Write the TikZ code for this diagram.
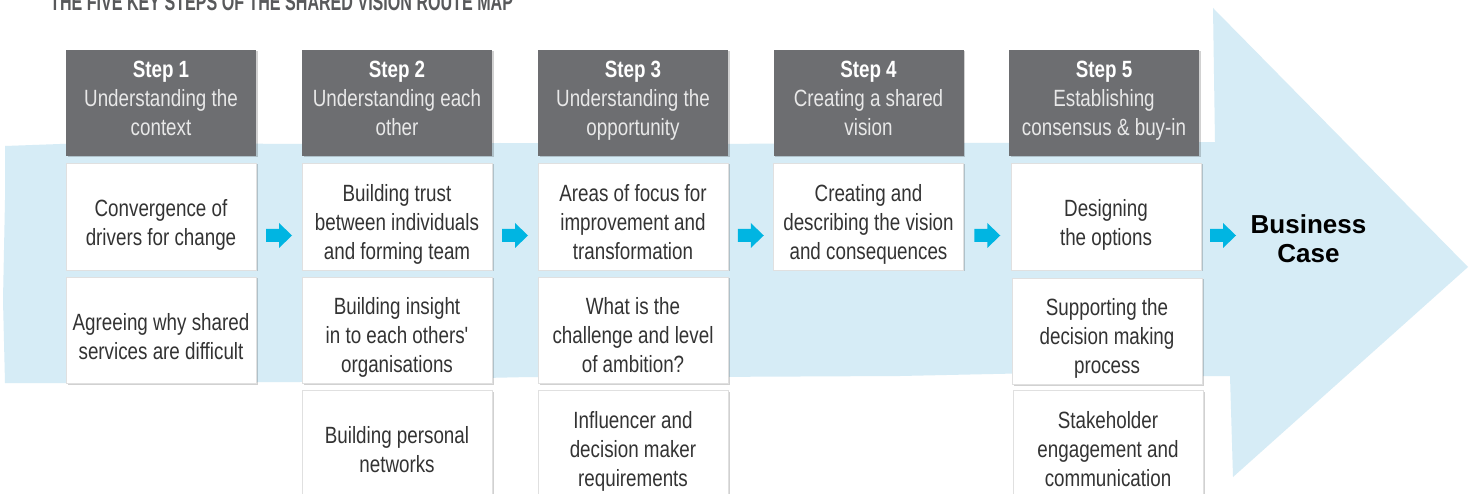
\documentclass[tikz,border=0pt]{standalone}
\usepackage{fontspec}
\setmainfont{Liberation Sans}
\newfontfamily\bodyf{Liberation Sans}[FakeStretch=0.8]
\newfontfamily\titlef{Liberation Sans}[FakeStretch=0.67]
\usetikzlibrary{shadows,calc}
\definecolor{band}{RGB}{214,236,246}
\definecolor{hdr}{RGB}{109,110,113}
\definecolor{cy}{RGB}{0,181,226}
\definecolor{txt}{RGB}{51,51,51}
\definecolor{ttl}{RGB}{88,89,91}
\definecolor{sub}{RGB}{232,232,232}
\begin{document}
\begin{tikzpicture}[x=1pt,y=-1pt,
  shad/.style={drop shadow={shadow xshift=1.5pt,shadow yshift=-1.5pt,opacity=0.18,fill=black}},
  hdrbox/.style={fill=hdr,minimum width=190pt,minimum height=106pt,inner sep=0pt,shad},
  wbox/.style={fill=white,draw=black!12,line width=0.6pt,minimum width=190pt,inner sep=0pt,shad},
  row1/.style={wbox,minimum height=107pt},
  row2/.style={wbox,minimum height=106pt},
  row3/.style={wbox,minimum height=118pt},
  boxtxt/.style={font=\bodyf\fontsize{23.5}{29}\selectfont,text=txt,align=center,inner sep=0pt},
  hdrtxt/.style={font=\bodyf\fontsize{23.5}{29}\selectfont,text=sub,align=center,inner sep=0pt,anchor=north},
  pics/cyarr/.style={code={\fill[cy] (-13,-6.5) -- (0,-6.5) -- (0,-12.5) -- (13,0)
      -- (0,12.5) -- (0,6.5) -- (-13,6.5) -- cycle;}}
]
\useasboundingbox (0,0) rectangle (1469,494);
\fill[white] (0,0) rectangle (1469,494);
% light blue route arrow
\fill[band] (5,146) -- (60,144) -- (150,143) -- (300,144) -- (500,143) -- (700,144)
  -- (900,143) -- (1100,143) -- (1215,142) -- (1213,8) -- (1468,267) -- (1233,477)
  -- (1230,376) -- (1100,376) -- (1040,373) -- (900,376) -- (700,377) -- (530,377)
  -- (300,382) -- (100,383) -- (5,383) -- (3,300) -- (5,200) -- cycle;
% title
\node[anchor=base west,inner sep=0pt,font=\titlef\bfseries\fontsize{24}{24}\selectfont,text=ttl]
  (title) at (50,10.5) {THE FIVE KEY STEPS OF THE SHARED VISION ROUTE MAP};
% headers
\node[hdrbox] (h1) at (161,103) {};
\node[hdrbox] (h2) at (397,103) {};
\node[hdrbox] (h3) at (633,103) {};
\node[hdrbox] (h4) at (868.5,103) {};
\node[hdrbox] (h5) at (1104,103) {};
\node[hdrtxt] (ht1) at ($(h1.north)+(0,11.5)$) {\textcolor{white}{\bfseries Step 1}\\Understanding the\\context};
\node[hdrtxt] (ht2) at ($(h2.north)+(0,11.5)$) {\textcolor{white}{\bfseries Step 2}\\Understanding each\\other};
\node[hdrtxt] (ht3) at ($(h3.north)+(0,11.5)$) {\textcolor{white}{\bfseries Step 3}\\Understanding the\\opportunity};
\node[hdrtxt] (ht4) at ($(h4.north)+(0,11.5)$) {\textcolor{white}{\bfseries Step 4}\\Creating a shared\\vision};
\node[hdrtxt] (ht5) at ($(h5.north)+(0,11.5)$) {\textcolor{white}{\bfseries Step 5}\\Establishing\\consensus \& buy-in};
% column 1
\node[row1] (b11) at (161,216.5) {};
\node[row2] (b12) at (161,330) {};
% column 2
\node[row1] (b21) at (397,216.5) {};
\node[row2] (b22) at (397,330) {};
\node[row3] (b23) at (397,449) {};
% column 3
\node[row1] (b31) at (633,216.5) {};
\node[row2] (b32) at (633,330) {};
\node[row3] (b33) at (633,449) {};
% column 4
\node[row1] (b41) at (868.5,216.5) {};
% column 5
\node[row1] (b51) at (1106,216.5) {};
\node[row2] (b52) at (1107,331) {};
\node[row3] (b53) at (1108,449) {};
% texts
\node[boxtxt] (t11) at ($(b11.center)+(0,8)$) {Convergence of\\drivers for change};
\node[boxtxt] (t12) at ($(b12.center)+(0,7)$) {Agreeing why shared\\services are difficult};
\node[boxtxt] (t21) at ($(b21.center)+(0,8)$) {Building trust\\between individuals\\and forming team};
\node[boxtxt] (t22) at ($(b22.center)+(0,7)$) {Building insight\\in to each others'\\organisations};
\node[boxtxt] (t23) at ($(b23.center)+(0,1)$) {Building personal\\networks};
\node[boxtxt] (t31) at ($(b31.center)+(0,6)$) {Areas of focus for\\improvement and\\transformation};
\node[boxtxt] (t32) at ($(b32.center)+(0,5)$) {What is the\\challenge and level\\of ambition?};
\node[boxtxt] (t33) at ($(b33.center)+(0,2)$) {Influencer and\\decision maker\\requirements};
\node[boxtxt] (t41) at ($(b41.center)+(0,8)$) {Creating and\\describing the vision\\and consequences};
\node[boxtxt] (t51) at ($(b51.center)+(0,8)$) {Designing\\the options};
\node[boxtxt] (t52) at ($(b52.center)+(0,7)$) {Supporting the\\decision making\\process};
\node[boxtxt] (t53) at ($(b53.center)+(0,0)$) {Stakeholder\\engagement and\\communication};
% business case
\node[font=\bfseries\fontsize{26}{29}\selectfont,text=black,align=center,inner sep=0pt]
  (bc) at (1308.5,238.5) {Business\\Case};
% cyan arrows
\coordinate (a1) at ($(b11.east)!0.5!(b21.west)+(0,19)$);
\coordinate (a2) at ($(b21.east)!0.5!(b31.west)+(0,19)$);
\coordinate (a3) at ($(b31.east)!0.5!(b41.west)+(0,19)$);
\coordinate (a4) at ($(b41.east)!0.5!(b51.west)+(0,19)$);
\coordinate (a5) at (1223,235.5);
\foreach \a in {a1,a2,a3,a4,a5} \pic at (\a) {cyarr};
\end{tikzpicture}
\end{document}
